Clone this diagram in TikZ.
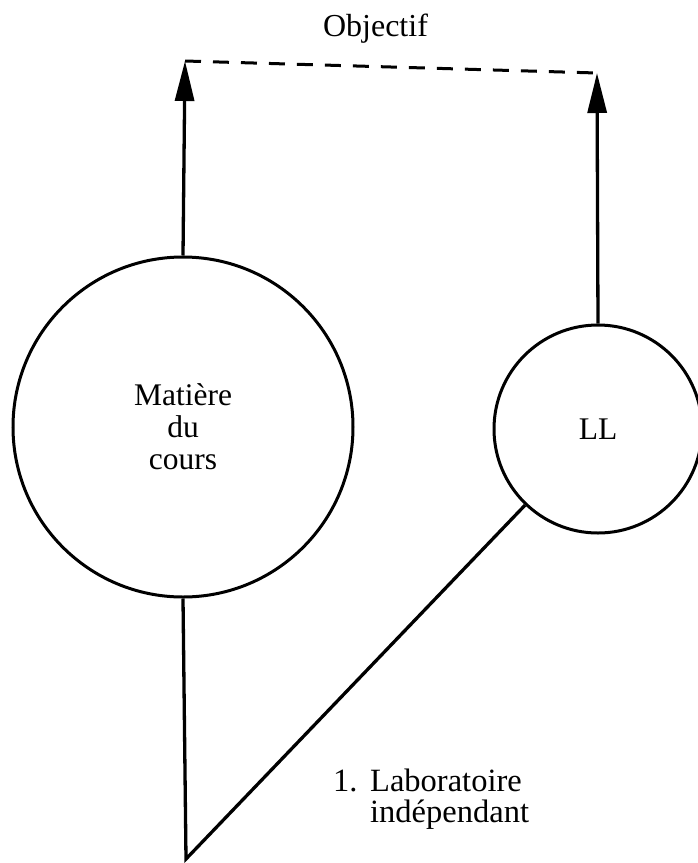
\documentclass[tikz,border=0pt]{standalone}
\usepackage{fontspec}
\setmainfont{Liberation Serif}
\usetikzlibrary{arrows.meta}
\begin{document}
\begin{tikzpicture}[x=1pt,y=-1pt,
  lbl/.style={font=\fontsize{32}{30}\selectfont, inner sep=0pt},
  ring/.style={circle, draw, line width=3pt, inner sep=0pt, font=\fontsize{31.5}{32}\selectfont, align=center},
  conn/.style={line width=3.3pt},
  goal/.style={conn, -{Triangle[width=19pt,length=40pt]}},
  dashline/.style={line width=3pt, dash pattern=on 16pt off 12pt}]
\useasboundingbox (0,0) rectangle (697,863);
\node[ring, minimum size=340pt] (mat) at (183,427) {Matière\\du\\cours};
\node[ring, minimum size=208pt] (ll) at (598,429) {LL};
\node[lbl, font=\fontsize{32}{30}\selectfont] (obj) at (375.5,28.5) {Objectif};
\coordinate (a1) at (185,61);
\coordinate (a2) at (597,73);
\coordinate (v) at (186,859);
\draw[goal] (mat.north) -- (a1);
\draw[goal] (ll.north) -- (a2);
\draw[dashline] (a1) -- (a2);
\draw[conn, line join=miter] (mat.south) -- (v) -- (ll);
\node[lbl, font=\fontsize{32.5}{30.5}\selectfont, anchor=west, align=left] (lab) at (333,799)
  {\makebox[37pt][l]{1.}Laboratoire\\\hspace*{37pt}indépendant};
\end{tikzpicture}
\end{document}
